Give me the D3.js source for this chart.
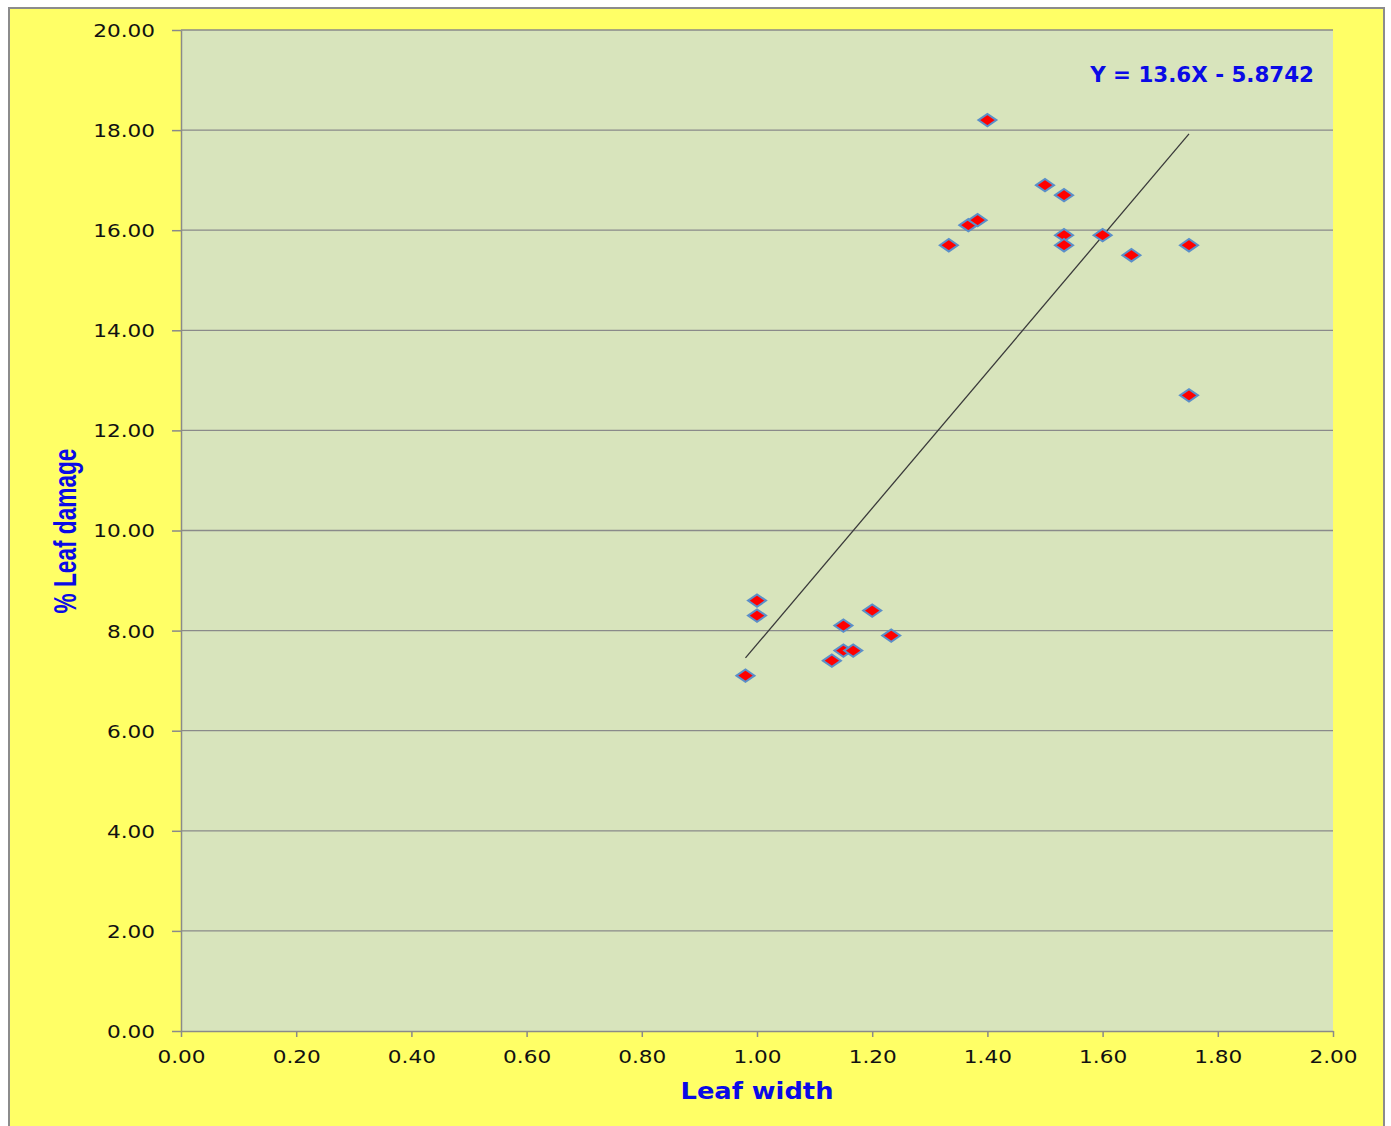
<!DOCTYPE html>
<html>
<head>
<meta charset="utf-8">
<script src="https://cdn.jsdelivr.net/npm/d3@7"></script>
<style>
  body { margin: 0; background: #ffffff; }
  svg { display: block; }
</style>
</head>
<body>
<svg id="chart" width="1391" height="1126"></svg>
<script>
// leaf width (x) and % leaf damage (y)
const leafWidth  = [0.98, 1.00, 1.00, 1.13, 1.15, 1.167, 1.15, 1.20, 1.233, 1.333, 1.367,
                    1.383, 1.40, 1.50, 1.533, 1.533, 1.533, 1.60, 1.65, 1.75, 1.75];
const leafDamage = [7.1, 8.6, 8.3, 7.4, 7.6, 7.6, 8.1, 8.4, 7.9, 15.7, 16.1,
                    16.2, 18.2, 16.9, 16.7, 15.9, 15.7, 15.9, 15.5, 15.7, 12.7];
const xTicks = [0, 0.2, 0.4, 0.6, 0.8, 1.0, 1.2, 1.4, 1.6, 1.8, 2.0];
const yTicks = [0, 2, 4, 6, 8, 10, 12, 14, 16, 18, 20];
const slope = 13.6, intercept = -5.8742;

let svg = d3.select('#chart');
let plot = {left: 181, top: 30, right: 1333, bottom: 1031};
const stretch = 1.2;   // text in the picture is stretched sideways

// outer chart area
svg.append('rect')
    .attr('x', 9).attr('y', 8)
    .attr('width', 1375).attr('height', 1130)
    .style('fill', '#ffff66')
    .style('stroke', '#8c8c8c')
    .style('stroke-width', 2);

svg.append('rect')
    .attr('x', plot.left).attr('y', plot.top)
    .attr('width', plot.right - plot.left).attr('height', plot.bottom - plot.top)
    .style('fill', '#d8e4bc');

let xScale = d3.scaleLinear().domain([0, 2]).range([plot.left, plot.right]);
let yScale = d3.scaleLinear().domain([0, 20]).range([plot.bottom, plot.top]);

// horizontal gridlines
svg.append('g').selectAll('line')
    .data(yTicks.filter(d => d > 0))
    .enter().append('line')
    .attr('x1', plot.left).attr('x2', plot.right)
    .attr('y1', d => yScale(d)).attr('y2', d => yScale(d))
    .style('stroke', '#8a8a8a')
    .style('stroke-width', 1.3);

let yAxis = d3.axisLeft(yScale).tickValues(yTicks).tickFormat(d3.format('.2f'))
    .tickSizeInner(9).tickSizeOuter(0).tickPadding(17);
let xAxis = d3.axisBottom(xScale).tickValues(xTicks).tickFormat(d3.format('.2f'))
    .tickSizeInner(6).tickSizeOuter(0).tickPadding(13);

let gy = svg.append('g').attr('transform', `translate(${plot.left},0)`).call(yAxis);
let gx = svg.append('g').attr('transform', `translate(0,${plot.bottom})`).call(xAxis);

[gx, gy].forEach(g => {
    g.selectAll('path, line').style('stroke', '#8a8a8a').style('stroke-width', 1.5);
    g.selectAll('text')
        .style('font-family', 'DejaVu Sans, Verdana, sans-serif')
        .style('font-size', '18px')
        .style('fill', '#111111');
});
gy.selectAll('text')
    .attr('dy', '0.36em')
    .attr('x', -26 / stretch)
    .attr('transform', `scale(${stretch},1)`);
gx.selectAll('text')
    .attr('transform', `scale(${stretch},1)`);

// trend line over the data range
let xr = d3.extent(leafWidth);
let trend = d3.line().x(d => xScale(d)).y(d => yScale(slope * d + intercept));
svg.append('path')
    .attr('d', trend(xr))
    .style('fill', 'none')
    .style('stroke', '#3a3a3a')
    .style('stroke-width', 1.3);

// diamond markers
let points = leafWidth.map((x, i) => ({x: x, y: leafDamage[i]}));
svg.append('g').selectAll('path')
    .data(points)
    .enter().append('path')
    .attr('transform', d => `translate(${xScale(d.x)},${yScale(d.y)})`)
    .attr('d', 'M-9,0L0,-6.2L9,0L0,6.2Z')
    .style('fill', '#ff0000')
    .style('stroke', '#5b8fc9')
    .style('stroke-width', 2);

// text squeezed/stretched to a given width
function fitText(pos, rot, anchor, width, family, size, label) {
    let g = svg.append('g').attr('transform', `translate(${pos[0]},${pos[1]}) rotate(${rot})`);
    let t = g.append('text')
        .attr('text-anchor', anchor)
        .style('font-family', family)
        .style('font-weight', 'bold')
        .style('font-size', size + 'px')
        .style('fill', '#0a0ae6')
        .text(label);
    let w = t.node().getComputedTextLength();
    t.attr('transform', `scale(${width / w},1)`);
}

fitText([1314, 82], 0, 'end', 224, 'DejaVu Sans, Verdana, sans-serif', 21, 'Y = 13.6X - 5.8742');
fitText([757, 1099], 0, 'middle', 153, 'DejaVu Sans, Verdana, sans-serif', 23, 'Leaf width');
fitText([76, 531], -90, 'middle', 165, 'Liberation Sans, Arial, sans-serif', 32, '% Leaf  damage');
</script>
</body>
</html>
